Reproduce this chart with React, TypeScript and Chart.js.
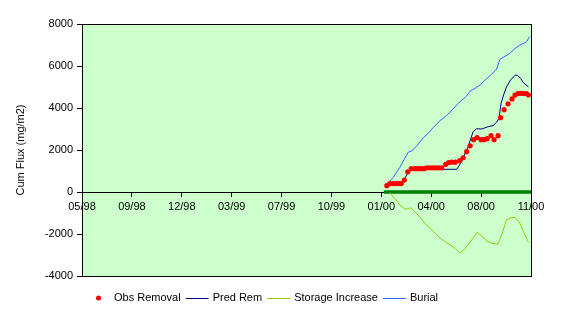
import React, { useEffect, useRef } from "react";
import { Chart, registerables } from "chart.js";

Chart.register(...registerables);

const FONT = "'Liberation Sans', Arial, sans-serif";

// X axis: days since the first tick, one labelled tick every 100 days
const xTickLabels = ["05/98", "09/98", "12/98", "03/99", "07/99", "10/99", "01/00", "04/00", "08/00", "11/00"];
const xStep = 100;
const yMin = -4000;
const yMax = 8000;
const yStep = 2000;

const obsDays = [611, 617, 624, 630, 636, 640, 646, 653, 660, 667, 673, 679, 685, 691, 697, 703, 709, 715, 721, 729, 735, 741, 748, 757, 764, 771, 778, 785, 792, 800, 806, 812, 820, 826, 834, 839, 846, 854, 862, 868, 874, 880, 886, 891, 895];
const obsValues = [300, 400, 400, 400, 400, 400, 570, 960, 1110, 1110, 1110, 1110, 1110, 1150, 1150, 1150, 1150, 1150, 1150, 1320, 1400, 1420, 1420, 1490, 1630, 1920, 2200, 2490, 2590, 2490, 2490, 2540, 2680, 2490, 2680, 3540, 3920, 4200, 4430, 4620, 4690, 4700, 4690, 4690, 4620];

const predDays = [611, 621, 641, 647, 657, 667, 751, 761, 774, 784, 791, 801, 814, 824, 831, 836, 838, 840, 845, 851, 859, 868, 873, 879, 885, 890, 895];
const predValues = [300, 395, 395, 635, 1080, 1080, 1080, 1445, 2160, 2870, 3010, 3000, 3110, 3160, 3320, 3510, 3900, 4220, 4620, 5010, 5330, 5560, 5560, 5410, 5200, 5100, 5010];

const storageDays = [617, 627, 637, 647, 654, 659, 667, 677, 687, 698, 708, 718, 728, 738, 748, 758, 768, 781, 792, 801, 811, 821, 833, 841, 851, 860, 868, 876, 885, 895];
const storageValues = [-30, -300, -620, -810, -810, -745, -940, -1175, -1490, -1730, -1970, -2200, -2370, -2520, -2680, -2920, -2680, -2290, -1920, -2080, -2330, -2440, -2490, -2050, -1330, -1220, -1210, -1410, -1890, -2400];

const burialDays = [611, 614, 624, 637, 647, 654, 661, 671, 684, 694, 704, 718, 731, 744, 754, 768, 778, 788, 798, 811, 821, 831, 838, 844, 858, 865, 878, 891, 897];
const burialValues = [300, 430, 700, 1170, 1600, 1900, 1950, 2200, 2580, 2790, 3070, 3400, 3650, 3950, 4220, 4500, 4800, 4940, 5100, 5400, 5600, 5850, 6320, 6410, 6600, 6780, 7000, 7150, 7400];

const zeroDays = [605, 900];
const zeroValues = [0, 0];

function zip(xs: number[], ys: number[]) {
  return xs.map((x, i) => ({ x, y: ys[i] }));
}

const plotFrame = {
  id: "plotFrame",
  beforeDraw(chart: any) {
    const { ctx, chartArea: a } = chart;
    ctx.save();
    ctx.fillStyle = "#CCFFCC";
    ctx.fillRect(a.left, a.top, a.right - a.left, a.bottom - a.top);
    ctx.restore();
  },
  beforeDatasetsDraw(chart: any) {
    const { ctx, chartArea: a } = chart;
    ctx.save();
    ctx.strokeStyle = "#000000";
    ctx.lineWidth = 1;
    ctx.strokeRect(Math.round(a.left) + 0.5, Math.round(a.top) + 0.5, Math.round(a.right - a.left), Math.round(a.bottom - a.top));
    ctx.restore();
  },
};

const customLegend = {
  id: "customLegend",
  afterDraw(chart: any, _args: any, opts: any) {
    const { ctx } = chart;
    ctx.save();
    ctx.font = `11px ${FONT}`;
    ctx.textBaseline = "middle";
    ctx.textAlign = "left";
    let x = opts.x;
    const y = opts.y;
    chart.data.datasets.forEach((ds: any) => {
      if (!ds.label) return;
      if (ds.showLine === false) {
        ctx.fillStyle = ds.pointBackgroundColor;
        ctx.beginPath();
        ctx.arc(x + 11.5, y, 2.5, 0, Math.PI * 2);
        ctx.fill();
      } else {
        ctx.strokeStyle = ds.borderColor;
        ctx.lineWidth = ds.borderWidth;
        ctx.beginPath();
        ctx.moveTo(x, y + 0.5);
        ctx.lineTo(x + 23, y + 0.5);
        ctx.stroke();
      }
      ctx.fillStyle = "#000000";
      ctx.fillText(ds.label, x + 27, y);
      x += 27 + ctx.measureText(ds.label).width + 5;
    });
    ctx.restore();
  },
};

export default function App() {
  const canvasRef = useRef<HTMLCanvasElement | null>(null);

  useEffect(() => {
    if (!canvasRef.current) return;
    const chart = new Chart(canvasRef.current, {
      type: "line",
      data: {
        datasets: [
          {
            label: "",
            data: zip(zeroDays, zeroValues),
            borderColor: "#008000",
            borderWidth: 3.5,
            pointRadius: 0,
            order: 5,
          },
          {
            label: "Obs Removal",
            data: zip(obsDays, obsValues),
            showLine: false,
            pointRadius: 2.6,
            pointBackgroundColor: "#FF0000",
            pointBorderWidth: 0,
            pointBorderColor: "#FF0000",
            order: 0,
          },
          {
            label: "Pred Rem",
            data: zip(predDays, predValues),
            borderColor: "#000080",
            borderWidth: 1,
            pointRadius: 0,
            order: 1,
          },
          {
            label: "Storage Increase",
            data: zip(storageDays, storageValues),
            borderColor: "#99CC00",
            borderWidth: 1,
            pointRadius: 0,
            order: 2,
          },
          {
            label: "Burial",
            data: zip(burialDays, burialValues),
            borderColor: "#3366FF",
            borderWidth: 1,
            pointRadius: 0,
            order: 3,
          },
        ] as any,
      },
      options: {
        responsive: false,
        animation: false,
        layout: { padding: { left: 0, right: 35, top: 24, bottom: 36 } },
        plugins: {
          legend: { display: false },
          tooltip: { enabled: false },
          customLegend: { x: 87, y: 298 },
        } as any,
        scales: {
          x: {
            type: "linear",
            position: { y: 0 } as any,
            min: 0,
            max: xStep * (xTickLabels.length - 1),
            grid: { display: true, drawOnChartArea: false, drawTicks: true, tickLength: 4, color: "#000000" },
            border: { display: true, color: "#000000", width: 1 },
            ticks: {
              stepSize: xStep,
              autoSkip: false,
              maxRotation: 0,
              padding: 4,
              color: "#000000",
              font: { family: FONT, size: 11 },
              callback: (v: any) => xTickLabels[Math.round(Number(v) / xStep)] ?? "",
            },
          },
          y: {
            type: "linear",
            position: "left",
            min: yMin,
            max: yMax,
            afterFit: (s: any) => {
              s.width = 82;
            },
            grid: { display: true, drawOnChartArea: false, drawTicks: true, tickLength: 5, color: "#000000" },
            border: { display: true, color: "#000000", width: 1 },
            ticks: {
              stepSize: yStep,
              padding: 4,
              color: "#000000",
              font: { family: FONT, size: 11 },
              callback: (v: any) => String(v),
            },
            title: {
              display: true,
              text: "Cum Flux (mg/m2)",
              color: "#000000",
              font: { family: FONT, size: 11 },
              padding: { top: 14, bottom: 0 },
            },
          },
        },
      } as any,
      plugins: [plotFrame, customLegend],
    });
    return () => chart.destroy();
  }, []);

  return (
    <canvas
      ref={canvasRef}
      width={566}
      height={312}
      style={{ position: "fixed", left: 0, top: 0, width: 566, height: 312, background: "#FFFFFF" }}
    />
  );
}
